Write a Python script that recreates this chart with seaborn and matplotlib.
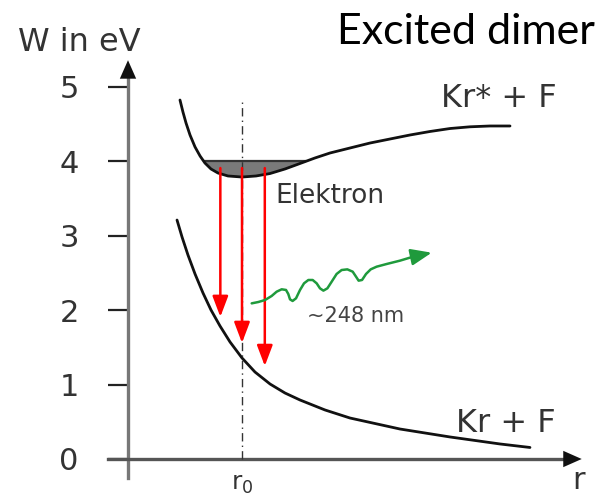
import numpy as np
import pandas as pd
import matplotlib
matplotlib.use("Agg")
import matplotlib.pyplot as plt
import seaborn as sns

# ---- data (r in units of r0, W in eV) ----
upper_r = [0.456, 0.482, 0.509, 0.544, 0.588, 0.632, 0.675, 0.728, 0.789, 0.877, 1.000,
           1.123, 1.246, 1.377, 1.509, 1.640, 1.772, 1.947, 2.123, 2.298, 2.474, 2.649,
           2.825, 3.000, 3.175, 3.351]
upper_W = [4.825, 4.664, 4.516, 4.355, 4.194, 4.073, 3.978, 3.898, 3.844, 3.804, 3.790,
           3.804, 3.837, 3.898, 3.972, 4.046, 4.113, 4.180, 4.247, 4.301, 4.355, 4.402,
           4.442, 4.465, 4.476, 4.476]

lower_r = [0.430, 0.474, 0.526, 0.588, 0.658, 0.728, 0.807, 0.895, 1.000, 1.114, 1.246,
           1.377, 1.509, 1.728, 1.947, 2.386, 2.825, 3.263, 3.526]
lower_W = [3.212, 2.984, 2.742, 2.487, 2.231, 2.003, 1.788, 1.573, 1.358, 1.169, 1.008,
           0.887, 0.793, 0.659, 0.551, 0.403, 0.296, 0.202, 0.155]

level_W = 4.0           # top of the populated vibrational band
r0 = 1.0
r0_line_top = 4.85

arrow_r = [0.81, 1.00, 1.20]
arrow_start_W = [3.91, 3.91, 3.91]
arrow_end_W = [1.91, 1.56, 1.25]

wave_r = [1.085, 1.143, 1.202, 1.260, 1.304, 1.348, 1.386, 1.406, 1.421, 1.444, 1.474,
          1.509, 1.544, 1.582, 1.620, 1.655, 1.684, 1.714, 1.749, 1.787, 1.830, 1.874,
          1.924, 1.971, 2.000, 2.023, 2.053, 2.088, 2.129, 2.181, 2.269, 2.386, 2.503,
          2.664]
wave_W = [2.092, 2.110, 2.137, 2.191, 2.249, 2.281, 2.272, 2.218, 2.146, 2.124, 2.160,
          2.272, 2.361, 2.406, 2.406, 2.361, 2.294, 2.263, 2.294, 2.384, 2.487, 2.540,
          2.549, 2.518, 2.451, 2.397, 2.406, 2.487, 2.549, 2.585, 2.621, 2.666, 2.720,
          2.773]

y_ticks = [0, 1, 2, 3, 4, 5]

# ---- figure ----
sns.set_style("white")
plt.rcParams['font.family'] = ['DejaVu Sans']
fig = plt.figure(figsize=(6.01, 4.96), dpi=100)
ax = fig.add_axes([0, 0, 1, 1])
# pixel-calibrated limits
ax.set_xlim(-128 / 114, (601 - 128) / 114)
ax.set_ylim((459 - 496) / 74.4, 459 / 74.4)

df_up = pd.DataFrame({"r": upper_r, "W": upper_W})
df_lo = pd.DataFrame({"r": lower_r, "W": lower_W})
df_wave = pd.DataFrame({"r": wave_r[:-1], "W": wave_W[:-1]})

# shaded band (between the band top and the upper potential curve)
ur = np.array(upper_r)
uw = np.array(upper_W)
ax.fill_between(ur, uw, level_W, where=uw < level_W, interpolate=True,
                color="#7a7a7a", lw=0, zorder=2)
imin = int(np.argmin(uw))
r_left = np.interp(level_W, uw[:imin + 1][::-1], ur[:imin + 1][::-1])
r_right = np.interp(level_W, uw[imin:], ur[imin:])
ax.plot([r_left, r_right], [level_W, level_W], color="#333333", lw=1.6, zorder=3)

kw = dict(sort=False, estimator=None, ax=ax, color="#111111", lw=2.0, zorder=4)
sns.lineplot(data=df_up, x="r", y="W", **kw)
sns.lineplot(data=df_lo, x="r", y="W", **kw)
for ln in ax.lines:
    ln.set_solid_joinstyle("round")
    ln.set_solid_capstyle("round")

# r0 dash-dot line
ax.plot([r0, r0], [0, r0_line_top], color="#333333", lw=1.0,
        linestyle=(0, (6, 3, 1, 3)), zorder=3)

# red transitions
for x, y0, y1 in zip(arrow_r, arrow_start_W, arrow_end_W):
    ax.annotate("", xy=(x, y1), xytext=(x, y0),
                arrowprops=dict(arrowstyle="-|>,head_length=0.9,head_width=0.34",
                                mutation_scale=14,
                                color="#ff0000", lw=1.8, shrinkA=0, shrinkB=0),
                zorder=5)

# green photon
sns.lineplot(data=df_wave, x="r", y="W", sort=False, estimator=None, ax=ax,
             color="#1f9a3c", lw=1.8, zorder=5)
ax.lines[-1].set_solid_joinstyle("round")
ax.annotate("", xy=(wave_r[-1], wave_W[-1]), xytext=(wave_r[-2], wave_W[-2]),
            arrowprops=dict(arrowstyle="-|>,head_length=0.9,head_width=0.36",
                            mutation_scale=14,
                            color="#1f9a3c", lw=1.8, shrinkA=0, shrinkB=0), zorder=5)

# axes
for s in ["top", "right"]:
    ax.spines[s].set_visible(False)
ax.spines["left"].set_position(("data", 0))
ax.spines["bottom"].set_position(("data", 0))
ax.spines["left"].set_bounds(-0.25, 5.15)
ax.spines["bottom"].set_bounds(-0.175, 3.83)
ax.spines["left"].set_color("#777777")
ax.spines["bottom"].set_color("#555555")
ax.spines["left"].set_linewidth(2.4)
ax.spines["bottom"].set_linewidth(2.4)
ax.annotate("", xy=(0, 5.36), xytext=(0, 5.0),
            arrowprops=dict(arrowstyle="-|>,head_length=0.95,head_width=0.42",
                            mutation_scale=14,
                            color="#111111", lw=0, shrinkA=0, shrinkB=0))
ax.annotate("", xy=(3.98, 0), xytext=(3.6, 0),
            arrowprops=dict(arrowstyle="-|>,head_length=0.95,head_width=0.42",
                            mutation_scale=14,
                            color="#111111", lw=0, shrinkA=0, shrinkB=0))

ax.set_yticks(y_ticks)
ax.set_yticklabels([str(t) for t in y_ticks])
ax.tick_params(axis="y", direction="out", length=14.4, width=1.6, color="#222222",
               pad=21, labelsize=22, labelcolor="#333333", left=True)
ax.set_xticks([r0])
ax.set_xticklabels(["r$_0$"])
ax.tick_params(axis="x", length=0, pad=9, labelsize=18, labelcolor="#333333")
ax.set_xlabel("")
ax.set_ylabel("")

# texts
ax.text(-0.43, 5.60, "W in eV", fontsize=23, color="#333333", ha="center", va="center")
ax.text(3.90, -0.29, "r", fontsize=22, color="#333333", ha="left", va="center")
ax.text(3.25, 4.85, "Kr* + F", fontsize=23, color="#333333", ha="center", va="center")
ax.text(3.31, 0.48, "Kr + F", fontsize=23, color="#333333", ha="center", va="center")
ax.text(1.29, 3.54, "Elektron", fontsize=19, color="#333333", ha="left", va="center")
ax.text(2.00, 1.92, "~248 nm", fontsize=15, color="#444444", ha="center", va="center")
fig.text(0.99, 0.935, "Excited dimer", fontsize=31, family=["Lato", "DejaVu Sans"],
         color="black", ha="right", va="center")

fig.savefig("out.png", dpi=100)
